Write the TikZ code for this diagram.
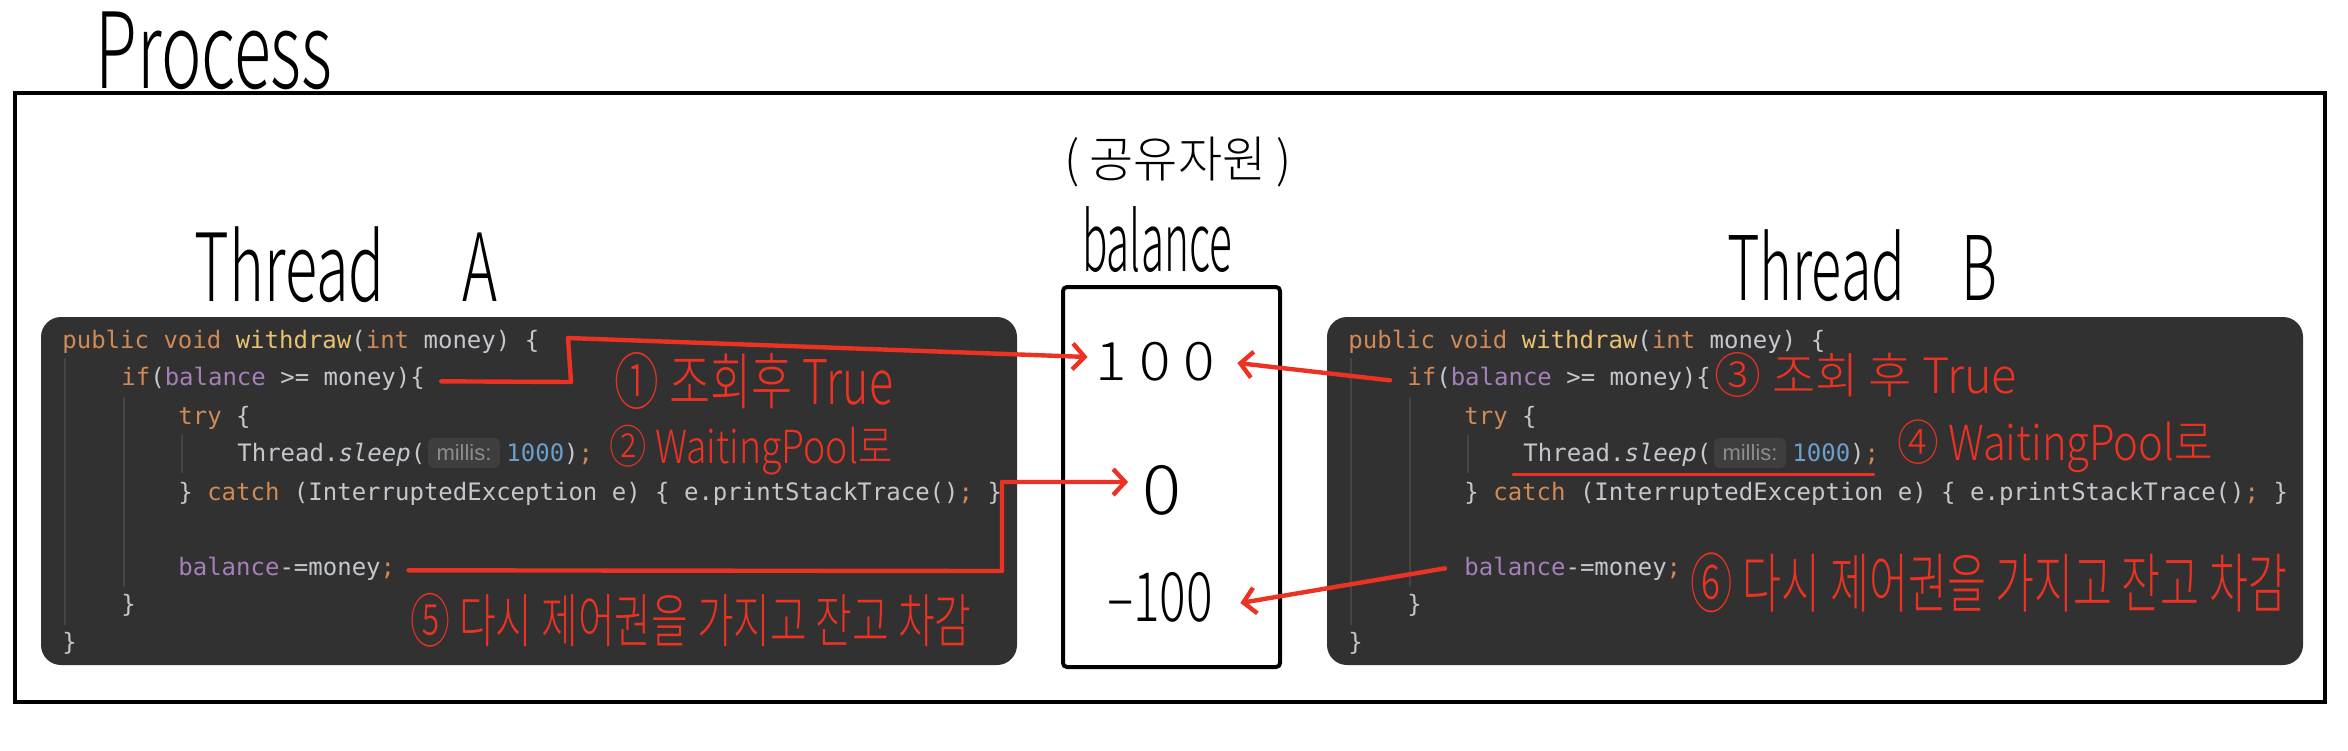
\documentclass[tikz,border=0pt]{standalone}
\usepackage{fontspec}
\usepackage{graphicx}
\usetikzlibrary{arrows.meta}
\IfFontExistsTF{Noto Sans CJK KR Light}{\newfontfamily\krfont{Noto Sans CJK KR Light}}{\newfontfamily\krfont{Noto Sans CJK KR}}
\newfontfamily\codefont{DejaVu Sans Mono}
\newfontfamily\hintfont{Liberation Sans}
\newlength\pxu \setlength\pxu{0.5pt}
\newcommand\fitbox[3]{\resizebox*{#1\pxu}{#2\pxu}{#3}}
\definecolor{codebg}{HTML}{313131}
\definecolor{kwc}{HTML}{D08A55}
\definecolor{fnc}{HTML}{EBC272}
\definecolor{txc}{HTML}{C4C7CC}
\definecolor{fldc}{HTML}{A67FB8}
\definecolor{numc}{HTML}{6A9FCF}
\definecolor{guidec}{HTML}{454545}
\definecolor{hintbg}{HTML}{3E3E3E}
\definecolor{hinttx}{HTML}{8C8C8C}
\definecolor{redc}{HTML}{EB3223}
\newcommand\ckw[1]{\textcolor{kwc}{#1}}
\newcommand\cfn[1]{\textcolor{fnc}{#1}}
\newcommand\cfld[1]{\textcolor{fldc}{#1}}
\newcommand\cnum[1]{\textcolor{numc}{#1}}
\tikzset{
  code/.style={anchor=base west, inner sep=0pt, text=txc, font=\codefont\fontsize{12}{14}\selectfont},
  hint/.style={fill=hintbg, rounded corners=2.5pt, minimum width=36pt, minimum height=15pt, inner sep=0pt, text=hinttx, font=\hintfont\fontsize{11}{12}\selectfont},
  guide/.style={draw=guidec, line width=0.6pt},
  hand/.style={inner sep=0pt, font=\krfont},
  redtext/.style={inner sep=0pt, font=\krfont, text=redc},
  redarrow/.style={draw=redc, line width=2.2pt, line cap=round, line join=round, -{Straight Barb[length=6pt,width=13pt,line width=2.2pt]}},
  redline/.style={draw=redc, line width=1.5pt, line cap=round},
  frame/.style={draw=black, line width=2pt}
}
\newcommand\codeblock[1]{%
  \fill[codebg, rounded corners=10pt] (41,317) rectangle (1017,665);
  \draw[guide] (65,358) -- (65,625);
  \draw[guide] (124,397) -- (124,587);
  \draw[guide] (182,435) -- (182,473);
  \node[code] (#1l1) at (62,348) {\ckw{public} \ckw{void} \cfn{withdraw}(\ckw{int} money) \{};
  \node[code] (#1l2) at (121,385) {\ckw{if}(\cfld{balance} >= money)\{};
  \node[code] (#1l3) at (178,424) {\ckw{try} \{};
  \node[code] (#1l4) at (237,461) {Thread.\textit{sleep}(};
  \node[hint] (#1hint) at (464,453) {millis:};
  \node[code] (#1l4b) at (506,461) {\cnum{1000})\ckw{;}};
  \node[code] (#1l5) at (178,500) {\} \ckw{catch} (InterruptedException e) \{ e.printStackTrace()\ckw{;} \}};
  \node[code] (#1l7) at (178,575) {\cfld{balance}-=money\ckw{;}};
  \node[code] (#1l8) at (121,612) {\}};
  \node[code] (#1l9) at (62,650) {\}};
}
\begin{document}
\begin{tikzpicture}[x=0.5pt,y=-0.5pt]
\useasboundingbox (0,0) rectangle (2348,750);
\fill[white] (0,0) rectangle (2348,750);
% process frame
\node[hand] (proc) at (214,51) {\fitbox{237}{78}{Process}};
\draw[frame] (15,93) rectangle (2325,702);
% thread labels
\node[hand] (tA) at (346,265) {\fitbox{302}{76}{Thread\hspace{1.3em}A}};
\node[hand] (tB) at (1862,266) {\fitbox{270}{72}{Thread\hspace{1em}B}};
% shared resource
\node[hand] (shared) at (1178,162) {\fitbox{228}{50}{( 공유자원 )}};
\node[hand] (bal) at (1157,240) {\fitbox{150}{66}{balance}};
\draw[frame, rounded corners=2pt] (1063,287) rectangle (1280,667);
\node[hand] (v100) at (1155,362) {\fitbox{120}{39}{1 0 0}};
\node[hand] (v0) at (1162,490) {\fitbox{39}{50}{0}};
\node[hand] (vm100) at (1160,597) {\fitbox{106}{50}{–100}};
% code blocks
\codeblock{L}
\begin{scope}[shift={(1286,0)}]
\codeblock{R}
\end{scope}
% red labels left
\node[redtext] (n1) at (754,381) {\fitbox{278}{57}{① 조회후 True}};
\node[redtext] (n2) at (751,450) {\fitbox{283}{50}{② WaitingPool로}};
\node[redtext] (n5) at (691,620) {\fitbox{561}{54}{⑤ 다시 제어권을 가지고 잔고 차감}};
% red labels right
\node[redtext] (n3) at (1866,375) {\fitbox{302}{45}{③ 조회 후 True}};
\node[redtext] (n4) at (2055,446) {\fitbox{316}{53}{④ WaitingPool로}};
\node[redtext] (n6) at (1989,583) {\fitbox{596}{60}{⑥ 다시 제어권을 가지고 잔고 차감}};
% arrows
\coordinate (a1b) at (571,382);
\coordinate (a1c) at (568,338);
\draw[redarrow] ([shift={(16,3)}]Ll2.east) -- (a1b) -- (a1c) -- ([shift={(-7,-5)}]v100.west);
\coordinate (a2b) at (1002,571);
\coordinate (a2c) at (1002,482);
\draw[redarrow] ([shift={(13,2)}]Ll7.east) -- (a2b) -- (a2c) -- ([shift={(-14,-8)}]v0.west);
\draw[redarrow] ([shift={(-17,2)}]Rl2.west) -- ([shift={(22,1)}]v100.east);
\draw[redarrow] ([shift={(-19,0)}]Rl7.west) -- ([shift={(27,6)}]vm100.east);
\draw[redline] ([shift={(-10,13)}]Rl4.base west) -- ([shift={(-6,13)}]Rl4b.base east);
\end{tikzpicture}
\end{document}
